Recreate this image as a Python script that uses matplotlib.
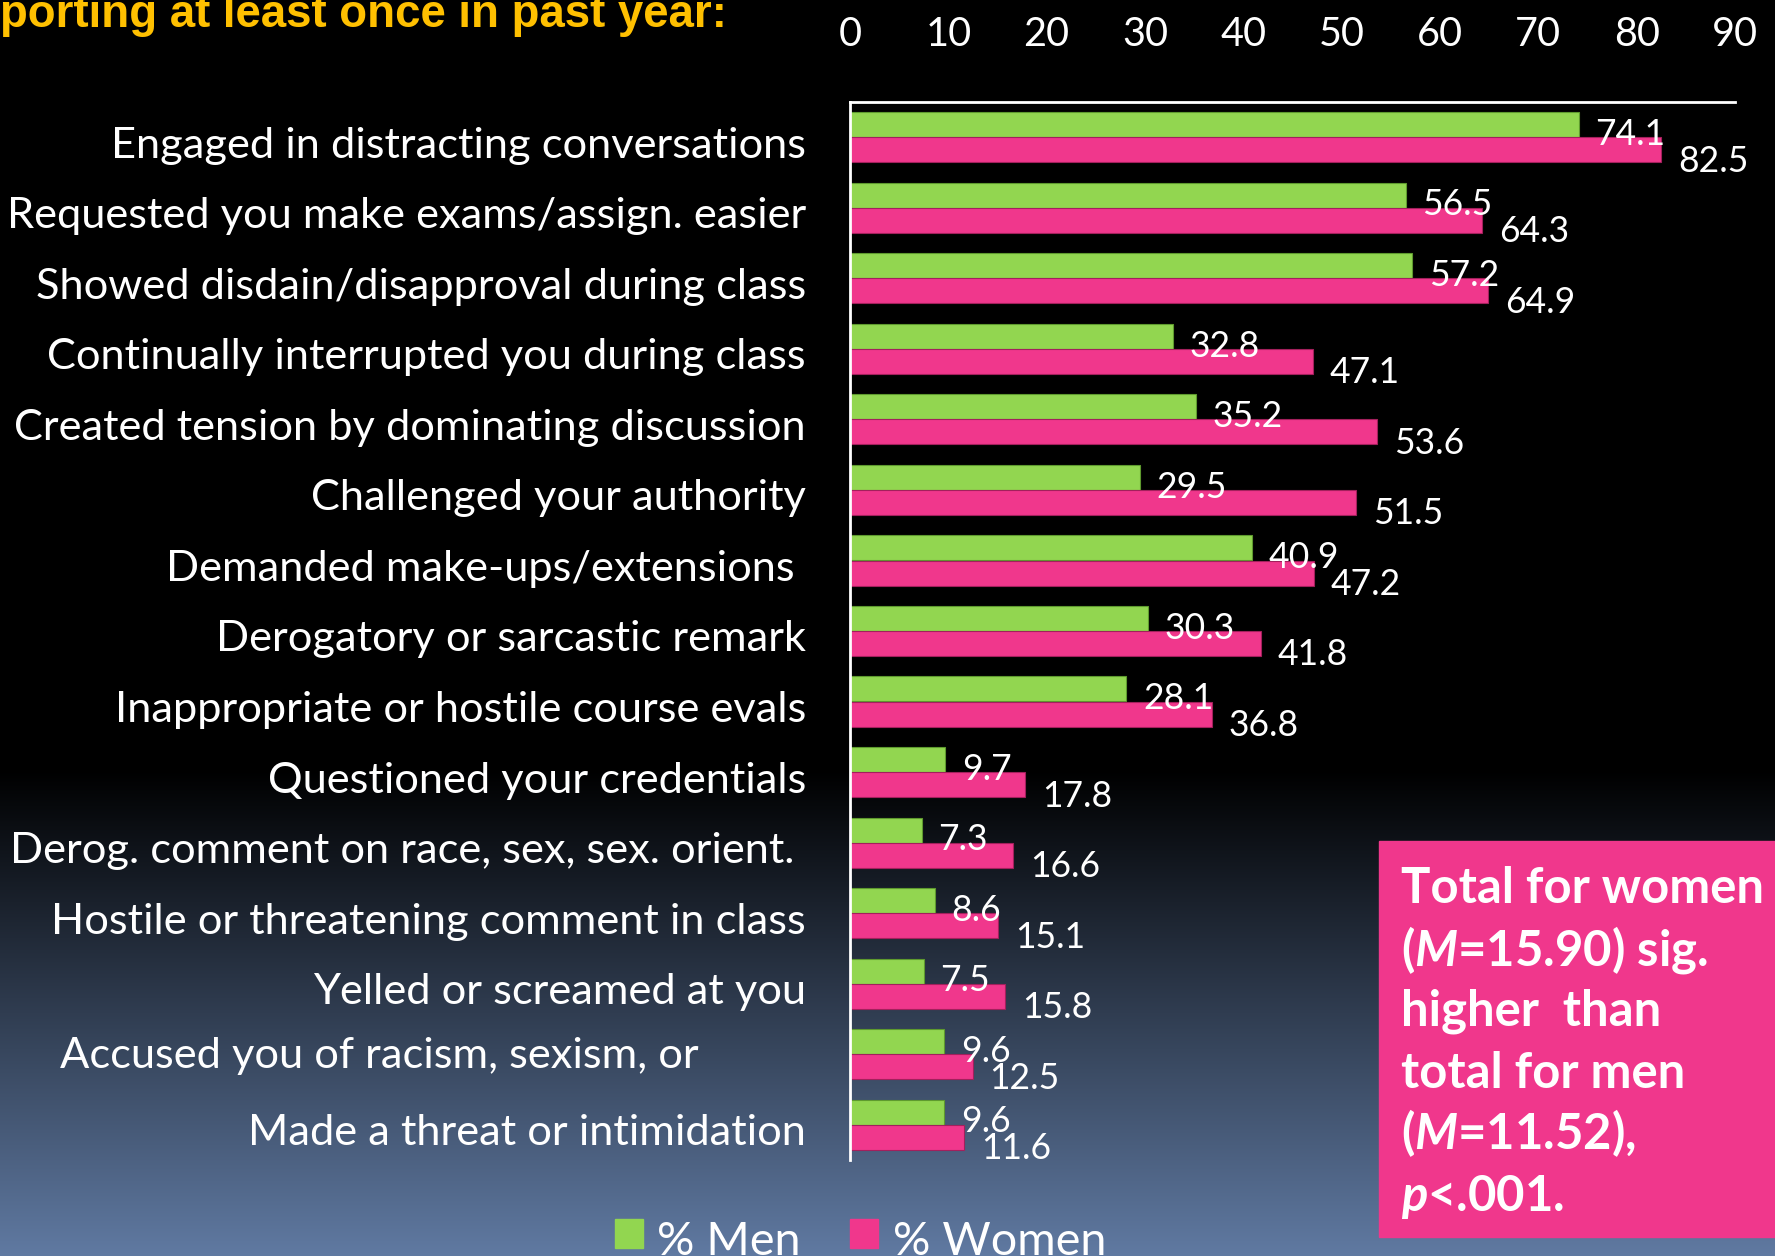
import numpy as np
import matplotlib
matplotlib.use('Agg')
import matplotlib.pyplot as plt
from matplotlib.patches import Rectangle
import matplotlib.transforms as mtransforms

# ---------------- data ----------------
categories = [
    "Engaged in distracting conversations",
    "Requested you make exams/assign. easier",
    "Showed disdain/disapproval during class",
    "Continually interrupted you during class",
    "Created tension by dominating discussion",
    "Challenged your authority",
    "Demanded make-ups/extensions ",
    "Derogatory or sarcastic remark",
    "Inappropriate or hostile course evals",
    "Questioned your credentials",
    "Derog. comment on race, sex, sex. orient. ",
    "Hostile or threatening comment in class",
    "Yelled or screamed at you",
    "Accused you of racism, sexism, or",
    "Made a threat or intimidation",
]
men = [74.1, 56.5, 57.2, 32.8, 35.2, 29.5, 40.9, 30.3, 28.1, 9.7, 7.3, 8.6, 7.5, 9.6, 9.6]
women = [82.5, 64.3, 64.9, 47.1, 53.6, 51.5, 47.2, 41.8, 36.8, 17.8, 16.6, 15.1, 15.8, 12.5, 11.6]
xticks = [0, 10, 20, 30, 40, 50, 60, 70, 80, 90]
series_labels = ["% Men", "% Women"]
title_text = "porting at least once in past year:"
note_lines = [
    "Total for women",
    r"($\mathit{M}$=15.90) sig.",
    "higher  than",
    "total for men",
    r"($\mathit{M}$=11.52),",
    r"$\mathit{p}$<.001.",
]

# ---------------- style ----------------
GREEN = '#92D650'
PINK = '#F0378C'
TITLE_C = '#FFC000'
plt.rcParams['font.family'] = ['Lato', 'DejaVu Sans']
plt.rcParams['mathtext.fontset'] = 'custom'
plt.rcParams['mathtext.it'] = 'Lato:italic:bold'
plt.rcParams['mathtext.rm'] = 'Lato:bold'
plt.rcParams['mathtext.bf'] = 'Lato:bold'

W, H, DPI = 1775, 1256, 100
fig = plt.figure(figsize=(W / DPI, H / DPI), dpi=DPI)
fig.patch.set_facecolor('black')
renderer = fig.canvas.get_renderer()


def fx(x):
    return x / W


def fy(y):
    return 1 - y / H


def fit(t, target):
    w = t.get_window_extent(renderer).width
    t.set_fontsize(t.get_fontsize() * target / w)
    return t.get_fontsize()


def measure_size(s, target, **kw):
    t = fig.text(0, 0, s, fontsize=20, **kw)
    size = fit(t, target)
    t.remove()
    return size


# background gradient
bg = fig.add_axes([0, 0, 1, 1], zorder=-10)
rows = np.arange(H)
tt = np.clip((rows - 770) / (H - 770), 0, 1)
bottom_c = np.array([96, 122, 162]) / 255.0
grad = tt[:, None, None] * bottom_c[None, None, :]
bg.imshow(grad, aspect='auto', extent=[0, 1, 0, 1], interpolation='bilinear')
bg.axis('off')

# main axes
ax = fig.add_axes([fx(850), fy(1160), (1735 - 850) / W, (1160 - 102) / H])
ax.set_facecolor('none')
n = len(categories)
y = np.arange(n)
h = 0.355
off = 0.178
ax.barh(y - off, men, height=h, color=GREEN, edgecolor='#5E9A2E', linewidth=0.8)
ax.barh(y + off, women, height=h, color=PINK, edgecolor='#A3205C', linewidth=0.8)
ax.set_xlim(0, 90)
ax.set_ylim(n - 0.5, -0.5)
ax.xaxis.tick_top()
ax.set_xticks(xticks)
tick_fs = measure_size("10", 46)
ax.tick_params(axis='x', length=0, pad=35, labelsize=tick_fs, labelcolor='white')
ax.set_yticks([])
for s in ['right', 'bottom']:
    ax.spines[s].set_visible(False)
for s in ['top', 'left']:
    ax.spines[s].set_color('white')
    ax.spines[s].set_linewidth(2)

# category labels
cat_fs = measure_size(categories[0], 696)
trans = mtransforms.blended_transform_factory(ax.transAxes, ax.transData)
for i, c in enumerate(categories):
    if c.startswith("Accused"):
        ax.text((60 - 850) / 885, i + 0.02, c, transform=trans, ha='left', va='center',
                color='white', fontsize=cat_fs)
    else:
        ax.text((806 - 850) / 885, i + 0.12, c, transform=trans, ha='right', va='center',
                color='white', fontsize=cat_fs)

# value labels
val_fs = measure_size("82.5", 70)
for i in range(n):
    ax.annotate(f"{men[i]:.1f}", xy=(men[i], i - 0.04), xytext=(12, 0), textcoords='offset points',
                ha='left', va='center', color='white', fontsize=val_fs)
    ax.annotate(f"{women[i]:.1f}", xy=(women[i], i + 0.34), xytext=(12, 0), textcoords='offset points',
                ha='left', va='center', color='white', fontsize=val_fs)

# title (cut at top)
tt_obj = fig.text(fx(0), fy(27), title_text, fontsize=30, fontweight='bold', color=TITLE_C,
                  family='Liberation Sans', ha='left', va='baseline')
fit(tt_obj, 728)

# legend (manual, partly cut at bottom)
leg_fs = measure_size(series_labels[1], 214)
fig.patches.append(Rectangle((fx(615), fy(1248)), 28 / W, 29 / H, transform=fig.transFigure,
                             color=GREEN, zorder=5))
fig.patches.append(Rectangle((fx(850), fy(1248)), 28 / W, 29 / H, transform=fig.transFigure,
                             color=PINK, zorder=5))
fig.text(fx(657), fy(1255), series_labels[0], color='white', fontsize=leg_fs, ha='left', va='baseline')
fig.text(fx(893), fy(1255), series_labels[1], color='white', fontsize=leg_fs, ha='left', va='baseline')

# note box
fig.patches.append(Rectangle((fx(1379), fy(1237)), (1775 - 1379) / W, (1237 - 841) / H,
                             transform=fig.transFigure, color=PINK, zorder=5))
note_fs = measure_size(note_lines[0], 362, fontweight='bold')
baselines = [903, 965, 1026, 1088, 1149, 1211]
for line, b in zip(note_lines, baselines):
    fig.text(fx(1401), fy(b), line, color='white', fontsize=note_fs, fontweight='bold',
             ha='left', va='baseline', zorder=6)

fig.savefig('out.png', dpi=DPI, facecolor='black')
